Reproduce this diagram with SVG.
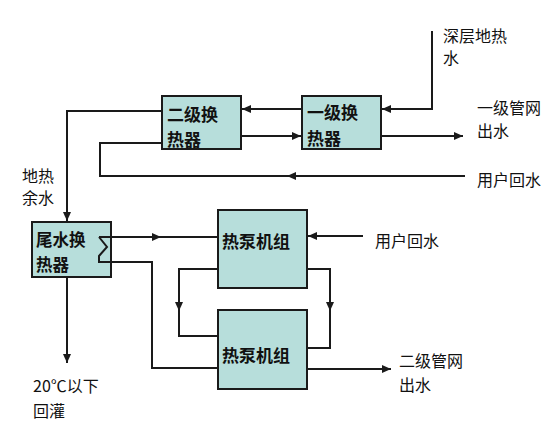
<svg xmlns="http://www.w3.org/2000/svg" width="554" height="442" viewBox="0 0 554 442">
<defs>
<marker id="arr" markerUnits="userSpaceOnUse" markerWidth="9" markerHeight="8" refX="9" refY="4" orient="auto">
<path d="M0,0 L9,4 L0,8 z" fill="#1a1a1a"/>
</marker>
</defs>
<style>
.box{fill:#b7dedb;stroke:#1a1a1a;stroke-width:2}
.ln{fill:none;stroke:#1a1a1a;stroke-width:2}
.a{marker-end:url(#arr)}
.bt{font-family:"Noto Sans CJK SC","Noto Sans",sans-serif;font-size:17px;font-weight:bold;fill:#111}
.lt{font-family:"Noto Sans CJK SC","Noto Sans",sans-serif;font-size:16px;fill:#111}
</style>
<rect width="554" height="442" fill="#ffffff"/>
<g id="connectors">
<path class="ln a" d="M432,31 V109 H382"/>
<path class="ln a" d="M302,109 H242"/>
<path class="ln a" d="M241,136 H301"/>
<path class="ln a" d="M381,136 H463"/>
<path class="ln a" d="M465,176 H287"/>
<path class="ln" d="M290,176 H100 V143 H162"/>
<path class="ln a" d="M162,111 H67 V221"/>
<path class="ln a" d="M67,277 V363"/>
<path class="ln a" d="M111,237 H161"/>
<path class="ln" d="M158,237 H218"/>
<path class="ln" d="M111,262 H152 V368 H218"/>
<path class="ln a" d="M363,236 H308"/>
<path class="ln a" d="M218,269 H179 V311"/>
<path class="ln" d="M179,307 V336 H218"/>
<path class="ln a" d="M307,269 H330 V311"/>
<path class="ln" d="M330,307 V348 H307"/>
<path class="ln a" d="M307,369 H391"/>
</g>
<g id="hx2">
<rect class="box" x="162" y="96" width="79" height="53"/>
<text class="bt" x="167" y="121">二级换</text>
<text class="bt" x="167" y="146">热器</text>
</g>
<g id="hx1">
<rect class="box" x="302" y="96" width="79" height="53"/>
<text class="bt" x="307" y="119">一级换</text>
<text class="bt" x="307" y="145">热器</text>
</g>
<g id="tailhx">
<rect class="box" x="32" y="222" width="79" height="55"/>
<text class="bt" x="36" y="246" style="font-size:16.5px">尾水换</text>
<text class="bt" x="36" y="271" style="font-size:16.5px">热器</text>
<path class="ln" d="M99,237 H111 M99,237 L107,247 L99,256 V262 H111"/>
</g>
<g id="hp1">
<rect class="box" x="218" y="210" width="89" height="78"/>
<text class="bt" x="222" y="248">热泵机组</text>
</g>
<g id="hp2">
<rect class="box" x="218" y="310" width="89" height="79"/>
<text class="bt" x="222" y="362">热泵机组</text>
</g>
<g id="labels">
<text class="lt" x="443" y="42">深层地热</text>
<text class="lt" x="443" y="64">水</text>
<text class="lt" x="477" y="114">一级管网</text>
<text class="lt" x="477" y="137">出水</text>
<text class="lt" x="477" y="186">用户回水</text>
<text class="lt" x="22" y="182">地热</text>
<text class="lt" x="22" y="204">余水</text>
<text class="lt" x="375" y="247">用户回水</text>
<text class="lt" x="399" y="367">二级管网</text>
<text class="lt" x="399" y="391">出水</text>
<text class="lt" x="33" y="392">20℃以下</text>
<text class="lt" x="33" y="417">回灌</text>
</g>
</svg>
